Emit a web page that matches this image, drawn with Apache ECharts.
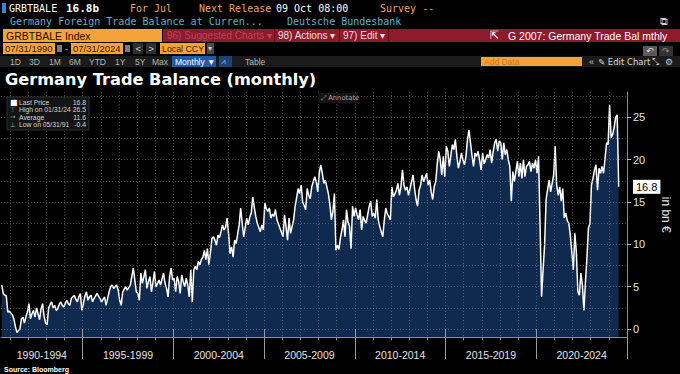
<!DOCTYPE html>
<html><head><meta charset="utf-8">
<script src="https://cdn.jsdelivr.net/npm/echarts@6/dist/echarts.min.js"></script>
<style>html,body{margin:0;padding:0;background:#000;}#c{width:680px;height:374px;}</style>
</head><body><div id="c"></div>
<script>
// ---- data (monthly, in bn EUR), first value = Jul 1990 ----
const firstYear = 1990;
const firstMonth = 6; // July (0-based)
const tb1990_1994 = [
  5.2, 4.2, 4.0, 3.9, 2.0, 2.1,
  1.9, 1.7, 1.2, 0.3, -0.4, -0.2, 0.0, 1.2, 1.4, 0.7, 1.5, 2.0,
  3.0, 1.2, 1.8, 2.2, 1.4, 2.5, 1.8, 1.1, 2.4, 3.0, 1.5, 0.7,
  0.5, 2.5, 2.9, 3.2, 2.5, 2.8, 2.2, 2.4, 2.9, 3.2, 2.8, 2.6,
  3.0, 3.4, 3.0, 2.8, 3.6, 3.8, 4.0, 3.5, 3.2, 3.8, 4.2, 2.2
];
const tb1995_1999 = [
  3.0, 3.9, 4.4, 3.4, 3.8, 4.0, 3.2, 3.6, 3.9, 4.2, 3.9, 3.6,
  3.2, 3.5, 3.8, 2.8, 3.6, 4.4, 5.0, 5.2, 4.8, 5.0, 5.2, 4.6,
  3.4, 2.8, 4.4, 4.7, 5.0, 4.6, 4.9, 5.2, 6.2, 7.2, 5.8, 4.4,
  4.2, 3.4, 6.6, 5.4, 6.2, 7.0, 4.8, 5.6, 6.2, 4.4, 5.5, 6.8,
  5.0, 5.4, 5.8, 5.2, 5.9, 6.6, 5.4, 4.8, 3.8, 6.2, 7.2, 5.8
];
const tb2000_2004 = [
  6.0, 4.4, 6.2, 5.6, 4.2, 6.4, 5.6, 5.0, 6.0, 5.2, 3.8, 7.0,
  3.2, 7.0, 7.4, 7.0, 8.0, 7.6, 8.2, 8.5, 9.3, 8.2, 9.5, 7.6,
  9.0, 10.7, 10.9, 10.5, 9.9, 11.1, 10.8, 11.5, 12.3, 11.7, 12.0, 13.1,
  11.3, 8.9, 9.7, 8.5, 10.5, 10.1, 11.2, 12.3, 14.3, 12.5, 10.9, 12.0,
  13.1, 12.3, 13.2, 13.7, 15.6, 14.4, 13.3, 12.5, 12.0, 11.5, 12.3, 11.7
];
const tb2005_2009 = [
  14.9, 14.2, 13.9, 14.3, 13.1, 13.6, 13.3, 14.1, 12.9, 12.4, 11.9, 11.4,
  10.9, 13.5, 12.1, 10.5, 13.1, 11.3, 12.1, 12.9, 14.5, 15.5, 16.6, 16.0,
  17.0, 15.0, 14.6, 14.1, 16.6, 15.8, 15.4, 16.8, 17.4, 18.0, 17.4, 16.2,
  18.5, 19.4, 18.4, 17.2, 17.6, 16.8, 16.0, 14.7, 12.9, 13.9, 16.0, 9.3,
  9.9, 9.4, 10.8, 11.7, 12.9, 10.9, 14.1, 12.6, 12.1, 9.5, 14.5, 13.3
];
const tb2010_2014 = [
  14.3, 13.5, 12.9, 14.1, 11.7, 13.3, 12.8, 12.5, 13.5, 14.5, 15.1, 13.3,
  13.7, 13.1, 15.3, 12.9, 12.1, 11.5, 10.9, 12.9, 14.3, 13.6, 13.3, 12.9,
  16.8, 15.6, 16.0, 16.4, 17.2, 15.8, 16.8, 18.8, 17.0, 16.4, 16.8, 15.8,
  16.6, 17.4, 18.2, 16.6, 15.3, 14.5, 16.4, 17.0, 18.2, 17.4, 17.9, 18.4,
  17.0, 17.6, 16.2, 15.3, 16.8, 17.4, 19.5, 21.0, 20.0, 18.2, 20.4, 18.0
];
const tb2015_2019 = [
  21.6, 21.0, 19.2, 20.5, 21.8, 21.2, 22.4, 20.4, 19.0, 19.8, 20.8, 20.0,
  19.4, 20.4, 22.4, 23.5, 22.0, 20.5, 19.2, 20.8, 20.4, 21.0, 20.0, 18.8,
  20.8, 19.5, 20.0, 20.6, 20.2, 21.2, 19.6, 21.0, 22.0, 22.4, 21.0, 22.2,
  22.0, 20.0, 22.0, 20.6, 21.2, 20.0, 19.2, 15.1, 18.6, 17.4, 18.6, 19.8,
  18.0, 19.6, 17.8, 20.0, 18.0, 19.2, 19.4, 19.8, 18.6, 19.6, 19.0, 20.0
];
const tb2020_2024 = [
  18.4, 20.4, 12.3, 3.8, 7.0, 9.9, 15.3, 16.5, 17.6, 16.2, 17.2, 18.2,
  21.6, 17.0, 15.8, 16.8, 15.1, 16.6, 13.1, 13.7, 12.8, 12.5, 11.1, 9.1,
  7.0, 11.3, 9.1, 4.4, 4.0, 6.6, 5.2, 2.2, 5.5, 8.4, 11.9, 12.5,
  17.0, 17.8, 18.8, 19.4, 16.4, 19.0, 18.4, 19.2, 18.4, 20.2, 22.0, 21.8,
  26.5, 22.6, 23.0, 23.8, 25.0, 25.3, 16.8
];

// ---- axis / tick labels ----
const blockLabels = ['1990-1994','1995-1999','2000-2004','2005-2009','2010-2014','2015-2019','2020-2024'];
const blockStarts = [1990, 1995, 2000, 2005, 2010, 2015, 2020];
const blockEdges = [1995, 2000, 2005, 2010, 2015, 2020, 2025];
const yearTicks = [1991,1992,1993,1994,1995,1996,1997,1998,1999,2000,2001,2002,2003,2004,2005,2006,2007,2008,2009,2010,2011,2012,2013,2014,2015,2016,2017,2018,2019,2020,2021,2022,2023,2024];
const yLabelValues = [0, 5, 10, 15, 20, 25];
const yGridValues = [0, 2.5, 5, 7.5, 10, 12.5, 15, 17.5, 20, 22.5, 25, 27.5];
const xMin = 1990.5, xMax = 2025;
const yMin = -1, yMax = 28;

// ---- texts ----
const statLabels = ['Last Price', 'High on 01/31/24', 'Average', 'Low on 05/31/91'];
const statValues = ['16.8', '26.5', '11.6', '-0.4'];
const titleText = 'Germany Trade Balance (monthly)';
const unitText = 'in bn €';

const values = [].concat(tb1990_1994, tb1995_1999, tb2000_2004, tb2005_2009, tb2010_2014, tb2015_2019, tb2020_2024);
const data = values.map((v, i) => [firstYear + (firstMonth + i + 0.5) / 12, v]);
const lastValue = values[values.length - 1];
const labelCenters = blockStarts.map(s => (Math.max(s, xMin) + Math.min(s + 5, xMax)) / 2);

const MONO = '"DejaVu Sans Mono", monospace';
const SANS = '"Liberation Sans", Arial, sans-serif';
function T(x, y, text, fill, font, extra) {
  return Object.assign({type: 'text', x: x, y: y, z: 50, silent: true,
    style: {text: text, fill: fill, font: font, align: 'left', verticalAlign: 'middle'}}, extra || {});
}
function R(x, y, w, h, fill, stroke, z) {
  return {type: 'rect', z: z || 40, silent: true, shape: {x: x, y: y, width: w, height: h},
    style: {fill: fill, stroke: stroke || null, lineWidth: stroke ? 1 : 0}};
}
const ORANGE = '#f4a436';
const ORTXT = '#e9a46c';
const TEAL = '#55b6c6';
const RED = '#8e1a2c';

const g = [];
// row 1
g.push(R(2, 3, 4, 10, '#3d7fd9'));
g.push(T(9, 8.5, 'GRBTBALE', '#ffffff', '10px ' + MONO));
g.push(T(66, 8.5, '16.8b', '#ffffff', 'bold 11px ' + MONO));
g.push(T(130, 8.5, 'For Jul', ORTXT, '10px ' + MONO));
g.push(T(199, 8.5, 'Next Release', ORTXT, '10px ' + MONO));
g.push(T(276, 8.5, '09 Oct 08:00', '#ffffff', '10px ' + MONO));
g.push(T(380, 8.5, 'Survey --', ORTXT, '10px ' + MONO));
// row 2
g.push(T(10, 21.5, 'Germany Foreign Trade Balance at Curren...', TEAL, '10px ' + MONO));
g.push(T(287, 21.5, 'Deutsche Bundesbank', TEAL, '10px ' + MONO));
g.push(T(660, 21.5, '⧉', '#cfcfcf', '11px "DejaVu Sans"'));
// row 3
g.push(R(3, 29, 159, 13, ORANGE));
g.push(T(6, 35.7, 'GRBTBALE Index', '#1a0d00', '10.5px ' + SANS));
g.push(R(163, 29, 517, 13, RED));
g.push(T(167, 35.7, '96) Suggested Charts ▾', '#b8485a', '10px ' + SANS));
g.push(R(274, 29, 1, 13, '#5a0d18'));
g.push(T(278, 35.7, '98) Actions ▾', '#f4dede', '10px ' + SANS));
g.push(R(339, 29, 1, 13, '#5a0d18'));
g.push(T(343, 35.7, '97) Edit ▾', '#f4dede', '10px ' + SANS));
g.push(R(388, 29, 1, 13, '#5a0d18'));
g.push(T(490, 35.7, '⇱', '#ffffff', '11px "DejaVu Sans"'));
g.push(T(508, 35.7, 'G 2007: Germany Trade Bal mthly', '#ffffff', '10.5px ' + SANS));
// row 4
g.push(R(3, 43, 52, 11, ORANGE));
g.push(T(5, 48.8, '07/31/1990', '#3a1500', '9.5px ' + SANS));
g.push(R(57, 45, 5, 7, '#7a7a7a'));
g.push(T(65, 48.8, '-', '#cccccc', '9.5px ' + SANS));
g.push(R(71, 43, 52, 11, ORANGE));
g.push(T(73, 48.8, '07/31/2024', '#3a1500', '9.5px ' + SANS));
g.push(R(125, 45, 5, 7, '#7a7a7a'));
g.push(R(133, 43, 10, 11, '#2e2e2e'));
g.push(T(135.5, 48.8, '<', '#d0d0d0', '9.5px ' + SANS));
g.push(R(146, 43, 10, 11, '#2e2e2e'));
g.push(T(148.5, 48.8, '>', '#d0d0d0', '9.5px ' + SANS));
g.push(R(160, 43, 45, 11, ORANGE));
g.push(T(162, 48.8, 'Local CCY', '#3a1500', '8.8px ' + SANS));
g.push(R(207, 43, 7, 11, '#4a4a4a'));
g.push(T(208, 48.8, '▾', '#d0d0d0', '8px "DejaVu Sans"'));
g.push(R(643, 46, 14, 10, '#5a5a5a'));
g.push(T(646, 51, '↶', '#e0e0e0', '9px "DejaVu Sans"'));
g.push(R(659, 46, 14, 10, '#333333'));
g.push(T(662, 51, '↷', '#909090', '9px "DejaVu Sans"'));
// row 5
g.push(R(0, 56, 680, 11, '#1b1b1b'));
const ranges = [['1D', 10], ['3D', 29], ['1M', 49], ['6M', 69], ['YTD', 89], ['1Y', 115], ['5Y', 135], ['Max', 152]];
ranges.forEach(r => g.push(T(r[1], 61.5, r[0], '#b5b5b5', '8.5px ' + SANS)));
g.push(R(172, 56, 44, 11, '#1f5aa6'));
g.push(T(175, 61.5, 'Monthly ▼', '#ffffff', '8.5px ' + SANS));
g.push(R(219, 56, 13, 11, '#1d4478'));
g.push(T(221, 61.5, '⩘', '#8fb8ff', '8px "DejaVu Sans"'));
g.push(T(245, 61.5, 'Table', '#b5b5b5', '8.5px ' + SANS));
g.push(R(481, 57, 101, 9, ORANGE));
g.push(T(484, 61.5, 'Add Data', '#c8761f', '8.5px ' + SANS));
g.push(T(589, 61.5, '«', '#c8c8c8', '9px ' + SANS));
g.push(T(598, 61.5, '✎ Edit Chart', '#d8d8d8', '8.5px "DejaVu Sans"'));
g.push(T(652, 61.5, '⤡', '#c8c8c8', '8.5px "DejaVu Sans"'));
g.push(T(665, 61.5, '⚙', '#c8c8c8', '9px "DejaVu Sans"'));
// title
g.push(T(5, 79, titleText, '#ffffff', 'bold 16.2px "DejaVu Sans"'));
// stats box
g.push(R(7, 97, 82, 33, 'rgba(22,22,22,0.92)', '#2e2e2e', 100));
const statRowsY = [102, 109.5, 117, 124.5];
const statIcons = ['■', '⊤', '→', '⊥'];
statLabels.forEach((lab, i) => {
  g.push(T(10, statRowsY[i], statIcons[i], i === 0 ? '#ffffff' : '#a8a8a8', (i === 0 ? '8px' : '6.5px') + ' "DejaVu Sans"', {z: 110}));
  g.push(T(19, statRowsY[i], lab, '#d6d6d6', '6.8px ' + SANS, {z: 110}));
  const vt = T(86, statRowsY[i], statValues[i], '#d6d6d6', '6.8px ' + SANS, {z: 110});
  vt.style.align = 'right';
  g.push(vt);
});
// annotate button
g.push(R(318, 93, 40, 10, '#141414', null, 100));
g.push(T(321, 98, '⤢ Annotate', '#a8a8a8', '6.8px "DejaVu Sans"', {z: 110}));
// source
g.push(T(4, 369, 'Source: Bloomberg', '#ffffff', 'bold 7px ' + SANS));

const GRIDC = 'rgba(150,150,150,0.45)';
const AXC = '#8c8c8c';
const option = {
  backgroundColor: '#000000',
  animation: false,
  grid: {left: 1, right: 46, top: 92, bottom: 36.5, containLabel: false},
  xAxis: [
    {type: 'value', min: xMin, max: xMax, position: 'bottom', z: 5,
     axisLine: {show: true, onZero: false, lineStyle: {color: AXC, width: 1}},
     axisTick: {show: true, customValues: yearTicks, length: 3, lineStyle: {color: AXC}},
     axisLabel: {show: true, customValues: labelCenters,
       formatter: v => blockLabels[Math.min(blockLabels.length - 1, Math.floor((v - blockStarts[0]) / 5))],
       color: '#e4e4e4', fontSize: 10.5, fontFamily: SANS, margin: 12},
     splitLine: {show: true, lineStyle: {color: GRIDC, type: [1, 2], width: 1}}},
    {type: 'value', min: xMin, max: xMax, position: 'bottom', z: 5,
     axisLine: {show: false},
     axisTick: {show: true, customValues: blockEdges, length: 30, lineStyle: {color: '#9a9a9a'}},
     axisLabel: {show: false}, splitLine: {show: false}}
  ],
  yAxis: [
    {type: 'value', min: yMin, max: yMax, position: 'right', z: 5,
     axisLine: {show: true, lineStyle: {color: AXC}},
     axisTick: {show: false, customValues: yGridValues},
     axisLabel: {show: false},
     splitLine: {show: true, lineStyle: {color: GRIDC, type: [1, 2], width: 1}}},
    {type: 'value', min: yMin, max: yMax, position: 'right', z: 5,
     axisLine: {show: false},
     axisTick: {show: true, customValues: yLabelValues, length: 4, lineStyle: {color: '#c0c0c0'}},
     axisLabel: {show: true, customValues: yLabelValues, color: '#e4e4e4', fontSize: 11, fontFamily: SANS, margin: 6},
     splitLine: {show: false},
     name: unitText, nameLocation: 'middle', nameRotate: -90, nameGap: 33,
     nameTextStyle: {color: '#e4e4e4', fontSize: 12, fontFamily: SANS}}
  ],
  series: [{
    type: 'line', xAxisIndex: 0, yAxisIndex: 0, data: data, z: 2,
    symbol: 'none', showSymbol: false,
    lineStyle: {color: '#ffffff', width: 1.5},
    areaStyle: {color: '#0f2a4e', origin: 'start', opacity: 1},
    markLine: {
      silent: true, symbol: 'none', animation: false, z: 20,
      data: [{yAxis: lastValue}],
      lineStyle: {color: 'rgba(0,0,0,0)', width: 0},
      label: {show: true, position: 'end', distance: 6, formatter: () => lastValue.toFixed(1),
        backgroundColor: '#ffffff', color: '#000000', padding: [2, 3, 1, 3], fontSize: 11, fontFamily: SANS, opacity: 1}
    }
  }],
  graphic: {elements: g}
};
const chart = echarts.init(document.getElementById('c'), null, {renderer: 'svg', width: 680, height: 374});
chart.setOption(option);
</script></body></html>
